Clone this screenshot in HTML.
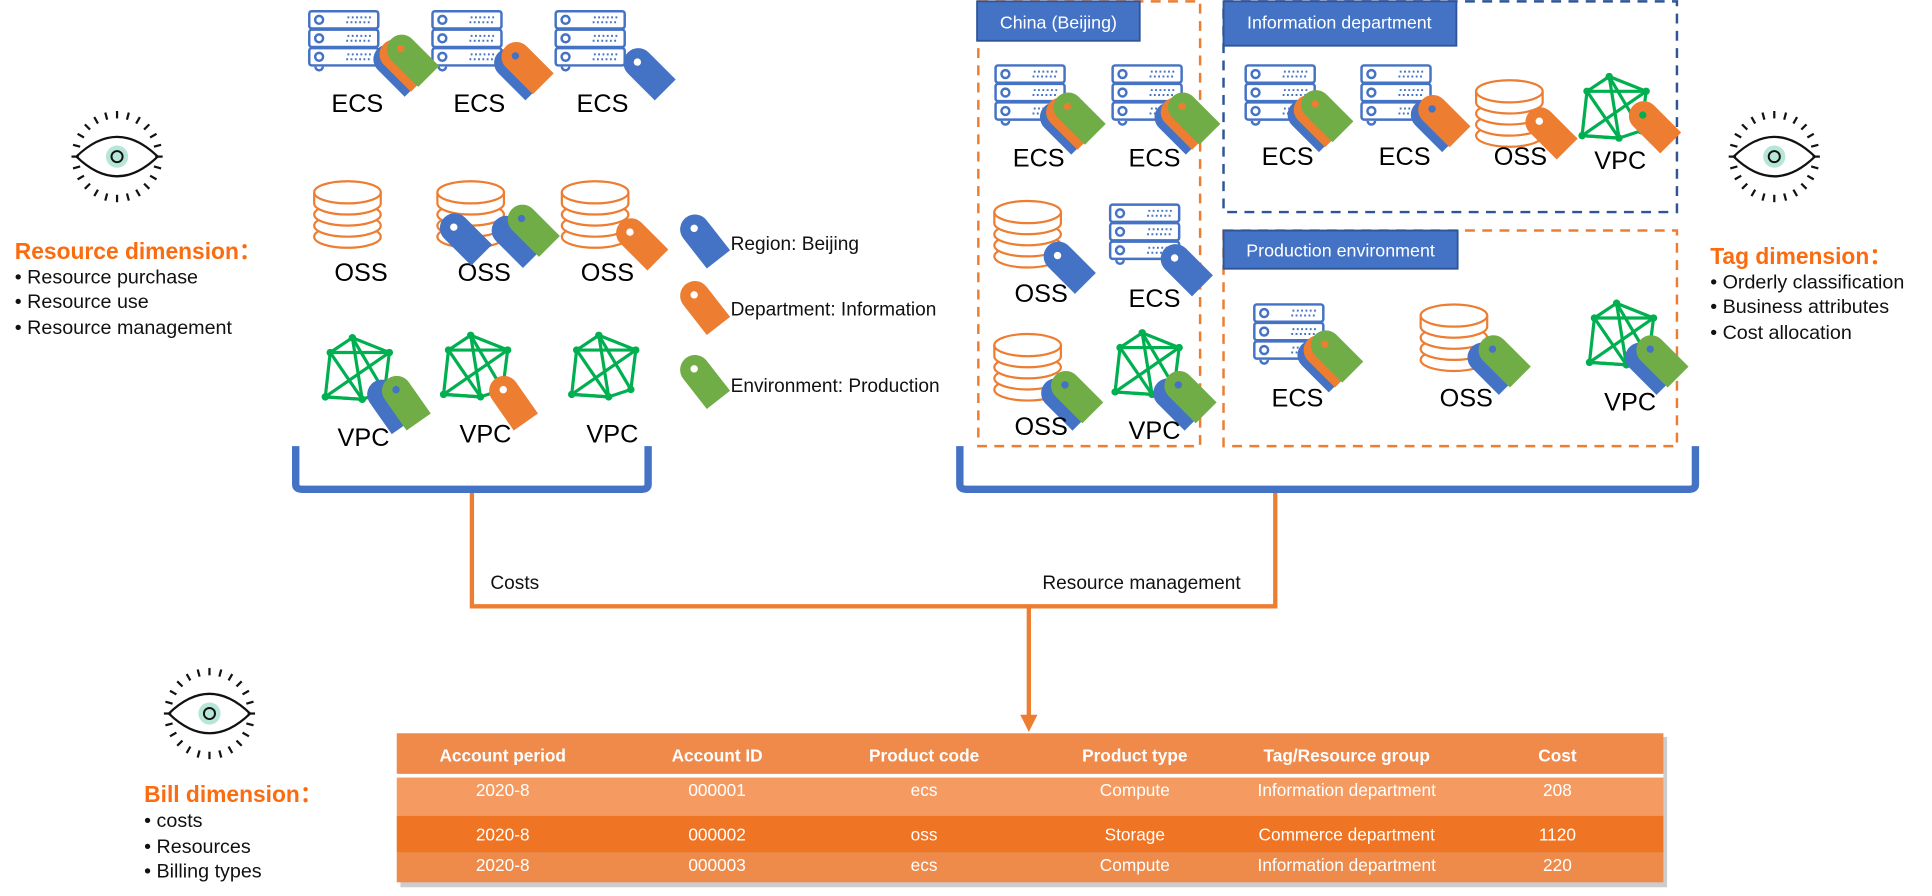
<!DOCTYPE html>
<html><head><meta charset="utf-8"><style>
html,body{margin:0;padding:0;background:#fff;width:1932px;height:896px;overflow:hidden}
svg{display:block}
text{font-family:"Liberation Sans",Arial,sans-serif}
</style></head><body>
<svg width="1932" height="896" viewBox="0 0 1568 727" xmlns="http://www.w3.org/2000/svg">
<defs>
<path id="tag" d="M-12,0 A12,12 0 0 1 12,0 L12,31 L-12,31 Z"/>
<symbol id="srv" viewBox="0 0 60 52" width="60" height="52" overflow="visible">
 <g fill="#fff" stroke="#4472c4" stroke-width="2">
  <rect x="1" y="1" width="56" height="14" rx="2"/>
  <rect x="1" y="16" width="56" height="14" rx="2"/>
  <rect x="1" y="31" width="56" height="14" rx="2"/>
  <circle cx="9" cy="8" r="3.2"/><circle cx="9" cy="23" r="3.2"/><circle cx="9" cy="38" r="3.2"/>
  <path d="M6,46 a3,3 0 0 0 6,0"/>
 </g>
 <g stroke="#4472c4" stroke-width="1.6" stroke-dasharray="1.5 2">
  <line x1="32" y1="6" x2="52" y2="6"/><line x1="31" y1="10" x2="52" y2="10"/>
  <line x1="32" y1="21" x2="52" y2="21"/><line x1="31" y1="25" x2="52" y2="25"/>
  <line x1="32" y1="36" x2="52" y2="36"/><line x1="31" y1="40" x2="52" y2="40"/>
 </g>
</symbol>
<symbol id="oss" viewBox="0 0 58 60" width="58" height="60" overflow="visible">
 <g fill="#fff" stroke="#ed7d31" stroke-width="1.8">
  <ellipse cx="28" cy="48" rx="27" ry="9"/>
  <ellipse cx="28" cy="39" rx="27" ry="9"/>
  <ellipse cx="28" cy="30" rx="27" ry="9"/>
  <path d="M1,12 V21 A27,9 0 0 0 55,21 V12"/>
  <ellipse cx="28" cy="12" rx="27" ry="9"/>
 </g>
</symbol>
<symbol id="vpc" viewBox="0 0 60 60" width="60" height="60" overflow="visible">
 <g stroke="#00b050" stroke-width="2.6" fill="none" stroke-linejoin="round">
  <polygon points="24,2 54,14 50,46 32,52 2,50 6,14"/>
  <line x1="6" y1="14" x2="54" y2="14"/><line x1="24" y1="2" x2="32" y2="52"/>
  <line x1="6" y1="14" x2="32" y2="52"/><line x1="54" y1="14" x2="2" y2="50"/>
  <line x1="24" y1="2" x2="50" y2="46"/><line x1="2" y1="50" x2="32" y2="52"/>
 </g>
 <g fill="#00b050"><circle cx="24" cy="2" r="3"/><circle cx="54" cy="14" r="3"/><circle cx="50" cy="46" r="3"/><circle cx="32" cy="52" r="3"/><circle cx="2" cy="50" r="3"/><circle cx="6" cy="14" r="3"/></g>
</symbol>
<symbol id="eye" viewBox="-40 -40 80 80" width="80" height="80" overflow="visible">
 <g stroke="#111" stroke-width="1.8">
  <line x1="0" y1="-37" x2="0" y2="-31"/>
  <line x1="0" y1="-37" x2="0" y2="-31" transform="rotate(15)"/>
  <line x1="0" y1="-37" x2="0" y2="-31" transform="rotate(30)"/>
  <line x1="0" y1="-37" x2="0" y2="-31" transform="rotate(45)"/>
  <line x1="0" y1="-37" x2="0" y2="-31" transform="rotate(60)"/>
  <line x1="0" y1="-37" x2="0" y2="-31" transform="rotate(75)"/>
  <line x1="0" y1="-37" x2="0" y2="-31" transform="rotate(90)"/>
  <line x1="0" y1="-37" x2="0" y2="-31" transform="rotate(105)"/>
  <line x1="0" y1="-37" x2="0" y2="-31" transform="rotate(120)"/>
  <line x1="0" y1="-37" x2="0" y2="-31" transform="rotate(135)"/>
  <line x1="0" y1="-37" x2="0" y2="-31" transform="rotate(150)"/>
  <line x1="0" y1="-37" x2="0" y2="-31" transform="rotate(165)"/>
  <line x1="0" y1="-37" x2="0" y2="-31" transform="rotate(180)"/>
  <line x1="0" y1="-37" x2="0" y2="-31" transform="rotate(195)"/>
  <line x1="0" y1="-37" x2="0" y2="-31" transform="rotate(210)"/>
  <line x1="0" y1="-37" x2="0" y2="-31" transform="rotate(225)"/>
  <line x1="0" y1="-37" x2="0" y2="-31" transform="rotate(240)"/>
  <line x1="0" y1="-37" x2="0" y2="-31" transform="rotate(255)"/>
  <line x1="0" y1="-37" x2="0" y2="-31" transform="rotate(270)"/>
  <line x1="0" y1="-37" x2="0" y2="-31" transform="rotate(285)"/>
  <line x1="0" y1="-37" x2="0" y2="-31" transform="rotate(300)"/>
  <line x1="0" y1="-37" x2="0" y2="-31" transform="rotate(315)"/>
  <line x1="0" y1="-37" x2="0" y2="-31" transform="rotate(330)"/>
  <line x1="0" y1="-37" x2="0" y2="-31" transform="rotate(345)"/>
 </g>
 <path d="M-33,0 Q0,-32 33,0 Q0,32 -33,0 Z" fill="none" stroke="#111" stroke-width="1.8"/>
 <circle r="9" fill="#b6e6d8"/>
 <circle r="4.5" fill="none" stroke="#111" stroke-width="1.6"/>
</symbol>
</defs>

<!-- Left text -->
<use href="#eye" x="55" y="87"/>
<text x="12" y="210" font-size="18.5" font-weight="bold" fill="#fa6c0f">Resource dimension：</text>
<g font-size="16" fill="#111">
<text x="12" y="230">• Resource purchase</text>
<text x="12" y="250">• Resource use</text>
<text x="12" y="271">• Resource management</text>
</g>
<use href="#eye" x="130" y="539"/>
<text x="117" y="651" font-size="18.5" font-weight="bold" fill="#fa6c0f">Bill dimension：</text>
<g font-size="16" fill="#111">
<text x="117" y="671">• costs</text>
<text x="117" y="692">• Resources</text>
<text x="117" y="712">• Billing types</text>
</g>

<!-- Left resources -->
<use href="#srv" x="250" y="8"/><use href="#srv" x="350" y="8"/><use href="#srv" x="450" y="8"/>
<g transform="translate(315,48) rotate(-45)"><use href="#tag" fill="#4472c4"/></g>
<g transform="translate(320,44) rotate(-45)"><use href="#tag" fill="#ed7d31"/></g>
<g transform="translate(326,40) rotate(-45)"><use href="#tag" fill="#70ad47"/><circle cy="-1" r="3" fill="#ed7d31"/></g>
<g transform="translate(413,51) rotate(-45)"><use href="#tag" fill="#4472c4"/></g>
<g transform="translate(419,46) rotate(-45)"><use href="#tag" fill="#ed7d31"/><circle cy="-1" r="3" fill="#4472c4"/></g>
<g transform="translate(518,51) rotate(-45)"><use href="#tag" fill="#4472c4"/><circle cy="-1" r="3" fill="#fff"/></g>
<g font-size="20.5" fill="#000" text-anchor="middle">
<text x="290" y="91">ECS</text><text x="389" y="91">ECS</text><text x="489" y="91">ECS</text>
<text x="293" y="228">OSS</text><text x="393" y="228">OSS</text><text x="493" y="228">OSS</text>
<text x="295" y="362">VPC</text><text x="394" y="359">VPC</text><text x="497" y="359">VPC</text>
</g>
<use href="#oss" x="254" y="144"/><use href="#oss" x="354" y="144"/><use href="#oss" x="455" y="144"/>
<g transform="translate(369,185) rotate(-45)"><use href="#tag" fill="#4472c4"/><circle cy="-1" r="3" fill="#fff"/></g>
<g transform="translate(411,187) rotate(-45)"><use href="#tag" fill="#4472c4"/></g>
<g transform="translate(424,178) rotate(-45)"><use href="#tag" fill="#70ad47"/><circle cy="-1" r="3" fill="#4472c4"/></g>
<g transform="translate(512,189) rotate(-45)"><use href="#tag" fill="#ed7d31"/><circle cy="-1" r="3" fill="#fff"/></g>
<use href="#vpc" x="262" y="272"/><use href="#vpc" x="358" y="270"/><use href="#vpc" x="462" y="270"/>
<g transform="translate(310,320) rotate(-35)"><use href="#tag" fill="#4472c4"/></g>
<g transform="translate(322,317) rotate(-35)"><use href="#tag" fill="#70ad47"/><circle cy="-1" r="3" fill="#4472c4"/></g>
<g transform="translate(409,317) rotate(-35)"><use href="#tag" fill="#ed7d31"/><circle cy="-1" r="3" fill="#fff"/></g>

<!-- Legend -->
<g transform="translate(564,186) rotate(-38)"><use href="#tag" fill="#4472c4"/><circle cy="-1" r="3" fill="#fff"/></g>
<g transform="translate(564,240) rotate(-38)"><use href="#tag" fill="#ed7d31"/><circle cy="-1" r="3" fill="#fff"/></g>
<g transform="translate(564,300) rotate(-38)"><use href="#tag" fill="#70ad47"/><circle cy="-1" r="3" fill="#fff"/></g>
<g font-size="15.5" fill="#111">
<text x="593" y="203">Region: Beijing</text>
<text x="593" y="256">Department: Information</text>
<text x="593" y="318">Environment: Production</text>
</g>

<!-- Brackets and connectors -->
<path d="M240,362 V393 Q240,397 245,397 H521 Q526,397 526,393 V362" fill="none" stroke="#4472c4" stroke-width="6"/>
<path d="M779,362 V393 Q779,397 784,397 H1371 Q1376,397 1376,393 V362" fill="none" stroke="#4472c4" stroke-width="6"/>
<path d="M383,400 V492 H1035 V400" fill="none" stroke="#ed7d31" stroke-width="3.5"/>
<line x1="835" y1="492" x2="835" y2="582" stroke="#ed7d31" stroke-width="3.5"/>
<polygon points="828,580 842,580 835,594" fill="#ed7d31"/>
<text x="398" y="478" font-size="15.5" fill="#111">Costs</text>
<text x="846" y="478" font-size="15.5" fill="#111">Resource management</text>

<!-- China box -->
<rect x="794" y="1" width="180" height="361" fill="none" stroke="#ed7d31" stroke-width="2" stroke-dasharray="8 6"/>
<rect x="793" y="1" width="132" height="32" fill="#4472c4" stroke="#2f5597" stroke-width="1.5"/>
<text x="859" y="23" font-size="14.5" fill="#fff" text-anchor="middle">China (Beijing)</text>
<use href="#srv" x="807" y="52"/><use href="#srv" x="902" y="52"/><use href="#srv" x="900" y="165"/>
<use href="#oss" x="806" y="160"/><use href="#oss" x="806" y="268"/><use href="#vpc" x="903" y="268"/>
<g transform="translate(856,95) rotate(-45)"><use href="#tag" fill="#4472c4"/></g>
<g transform="translate(861,91) rotate(-45)"><use href="#tag" fill="#ed7d31"/></g>
<g transform="translate(867,87) rotate(-45)"><use href="#tag" fill="#70ad47"/><circle cy="-1" r="3" fill="#ed7d31"/></g>
<g transform="translate(949,95) rotate(-45)"><use href="#tag" fill="#4472c4"/></g>
<g transform="translate(954,91) rotate(-45)"><use href="#tag" fill="#ed7d31"/></g>
<g transform="translate(960,87) rotate(-45)"><use href="#tag" fill="#70ad47"/><circle cy="-1" r="3" fill="#ed7d31"/></g>
<g transform="translate(859,208) rotate(-45)"><use href="#tag" fill="#4472c4"/><circle cy="-1" r="3" fill="#fff"/></g>
<g transform="translate(954,210) rotate(-45)"><use href="#tag" fill="#4472c4"/><circle cy="-1" r="3" fill="#fff"/></g>
<g transform="translate(857,319) rotate(-45)"><use href="#tag" fill="#4472c4"/></g>
<g transform="translate(865,313) rotate(-45)"><use href="#tag" fill="#70ad47"/><circle cy="-1" r="3" fill="#4472c4"/></g>
<g transform="translate(948,319) rotate(-45)"><use href="#tag" fill="#4472c4"/></g>
<g transform="translate(957,313) rotate(-45)"><use href="#tag" fill="#70ad47"/><circle cy="-1" r="3" fill="#4472c4"/></g>
<g font-size="20.5" fill="#000" text-anchor="middle">
<text x="843" y="135">ECS</text><text x="937" y="135">ECS</text>
<text x="845" y="245">OSS</text><text x="937" y="249">ECS</text>
<text x="845" y="353">OSS</text><text x="937" y="356">VPC</text>
</g>

<!-- Information department -->
<rect x="993" y="1" width="368" height="171" fill="none" stroke="#2f5597" stroke-width="2" stroke-dasharray="8 6"/>
<rect x="993" y="1" width="189" height="36" fill="#4472c4" stroke="#2f5597" stroke-width="1.5"/>
<text x="1087" y="23" font-size="14.5" fill="#fff" text-anchor="middle">Information department</text>
<use href="#srv" x="1010" y="52"/><use href="#srv" x="1104" y="52"/><use href="#oss" x="1197" y="62"/><use href="#vpc" x="1282" y="60"/>
<g transform="translate(1057,93) rotate(-45)"><use href="#tag" fill="#4472c4"/></g>
<g transform="translate(1062,89) rotate(-45)"><use href="#tag" fill="#ed7d31"/></g>
<g transform="translate(1068,85) rotate(-45)"><use href="#tag" fill="#70ad47"/><circle cy="-1" r="3" fill="#ed7d31"/></g>
<g transform="translate(1157,93) rotate(-45)"><use href="#tag" fill="#4472c4"/></g>
<g transform="translate(1163,89) rotate(-45)"><use href="#tag" fill="#ed7d31"/><circle cy="-1" r="3" fill="#4472c4"/></g>
<g transform="translate(1250,99) rotate(-45)"><use href="#tag" fill="#ed7d31"/><circle cy="-1" r="3" fill="#fff"/></g>
<g transform="translate(1334,94) rotate(-45)"><use href="#tag" fill="#ed7d31"/><circle cy="-1" r="3" fill="#00b050"/></g>
<g font-size="20.5" fill="#000" text-anchor="middle">
<text x="1045" y="134">ECS</text><text x="1140" y="134">ECS</text><text x="1234" y="134">OSS</text><text x="1315" y="137">VPC</text>
</g>

<!-- Production environment -->
<rect x="993" y="187" width="368" height="175" fill="none" stroke="#ed7d31" stroke-width="2" stroke-dasharray="8 6"/>
<rect x="993" y="187" width="190" height="31" fill="#4472c4" stroke="#2f5597" stroke-width="1.5"/>
<text x="1088" y="208" font-size="14.5" fill="#fff" text-anchor="middle">Production environment</text>
<use href="#srv" x="1017" y="246"/><use href="#oss" x="1152" y="244"/><use href="#vpc" x="1288" y="244"/>
<g transform="translate(1065,288) rotate(-45)"><use href="#tag" fill="#4472c4"/></g>
<g transform="translate(1070,284) rotate(-45)"><use href="#tag" fill="#ed7d31"/></g>
<g transform="translate(1076,280) rotate(-45)"><use href="#tag" fill="#70ad47"/><circle cy="-1" r="3" fill="#ed7d31"/></g>
<g transform="translate(1203,290) rotate(-45)"><use href="#tag" fill="#4472c4"/></g>
<g transform="translate(1212,284) rotate(-45)"><use href="#tag" fill="#70ad47"/><circle cy="-1" r="3" fill="#4472c4"/></g>
<g transform="translate(1331,290) rotate(-45)"><use href="#tag" fill="#4472c4"/></g>
<g transform="translate(1340,284) rotate(-45)"><use href="#tag" fill="#70ad47"/><circle cy="-1" r="3" fill="#4472c4"/></g>
<g font-size="20.5" fill="#000" text-anchor="middle">
<text x="1053" y="330">ECS</text><text x="1190" y="330">OSS</text><text x="1323" y="333">VPC</text>
</g>

<!-- Right text -->
<use href="#eye" x="1400" y="87"/>
<text x="1388" y="214" font-size="18.5" font-weight="bold" fill="#fa6c0f">Tag dimension：</text>
<g font-size="16" fill="#111">
<text x="1388" y="234">• Orderly classification</text>
<text x="1388" y="254">• Business attributes</text>
<text x="1388" y="275">• Cost allocation</text>
</g>

<!-- Table -->
<rect x="325" y="598" width="1028" height="122" fill="#999" opacity="0.5"/>
<rect x="322" y="595" width="1028" height="33" fill="#f08a4b"/>
<rect x="322" y="628" width="1028" height="3" fill="#fff"/>
<rect x="322" y="631" width="1028" height="31" fill="#f59b62"/>
<rect x="322" y="662" width="1028" height="30" fill="#ef7423"/>
<rect x="322" y="692" width="1028" height="24" fill="#ee8b4b"/>
<g font-size="14" fill="#fff" text-anchor="middle" font-weight="bold">
<text x="408" y="618">Account period</text><text x="582" y="618">Account ID</text><text x="750" y="618">Product code</text>
<text x="921" y="618">Product type</text><text x="1093" y="618">Tag/Resource group</text><text x="1264" y="618">Cost</text>
</g>
<g font-size="14" fill="#fff" text-anchor="middle">
<text x="408" y="646">2020-8</text><text x="582" y="646">000001</text><text x="750" y="646">ecs</text><text x="921" y="646">Compute</text><text x="1093" y="646">Information department</text><text x="1264" y="646">208</text>
<text x="408" y="682">2020-8</text><text x="582" y="682">000002</text><text x="750" y="682">oss</text><text x="921" y="682">Storage</text><text x="1093" y="682">Commerce department</text><text x="1264" y="682">1120</text>
<text x="408" y="707">2020-8</text><text x="582" y="707">000003</text><text x="750" y="707">ecs</text><text x="921" y="707">Compute</text><text x="1093" y="707">Information department</text><text x="1264" y="707">220</text>
</g>
</svg>
</body></html>
